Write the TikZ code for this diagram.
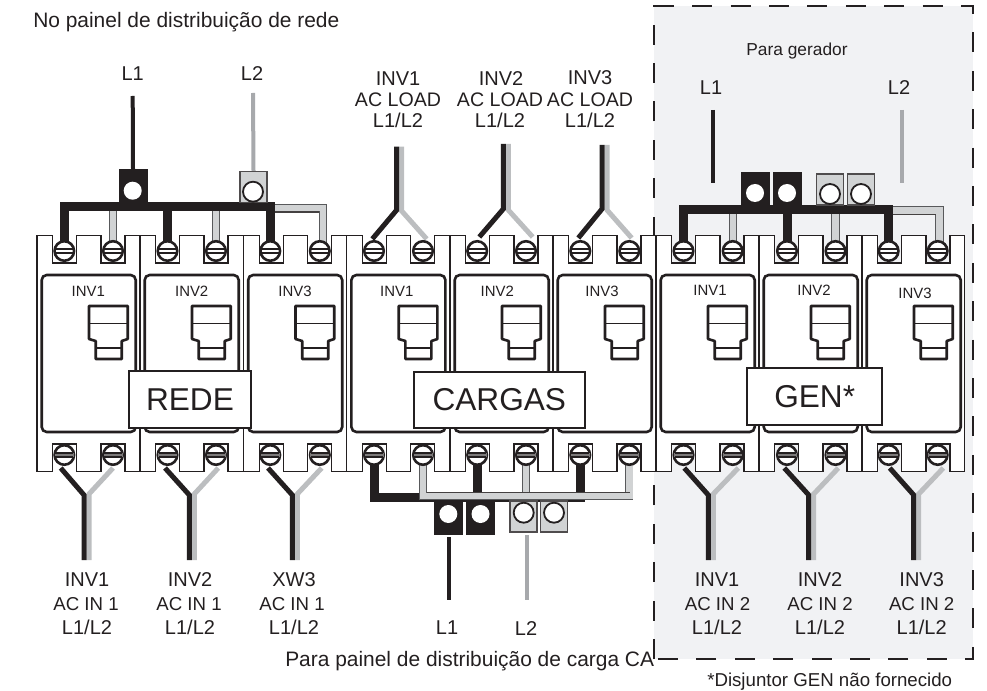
\documentclass[tikz,border=0pt]{standalone}
\usepackage{fontspec}
\setmainfont{Liberation Sans}
\def\px{0.75pt}
\definecolor{ink}{HTML}{231F20}
\definecolor{barlight}{HTML}{D1D3D4}
\definecolor{barline}{HTML}{58595B}
\definecolor{wiregray}{HTML}{BCBEC0}
\definecolor{feedgray}{HTML}{A7A9AC}
\definecolor{panelgray}{HTML}{F1F2F4}
\newcommand{\fs}[1]{\fontsize{#1}{#1}\selectfont}
\tikzset{
  breakerbody/.style={draw=ink,fill=white,line width=1.3*\px,line join=miter},
  innerframe/.style={draw=ink,line width=2.6*\px,rounded corners=5*\px},
  toggle/.style={draw=ink,line width=2.6*\px,line join=round,fill=white},
  togglebar/.style={draw=ink,line width=1.3*\px},
  screwhead/.style={circle,draw=ink,fill=white,line width=2.6*\px,minimum size=19.5*\px,inner sep=0pt},
  screwslot/.style={draw=ink,line width=1.2*\px},
  slotband/.style={draw=none,fill=ink!60},
  barblack/.style={draw=ink,line width=9*\px,line join=miter,line cap=butt},
  bargray/.style={draw=barline,double=barlight,line width=0.9*\px,double distance=6.4*\px,line join=miter,line cap=butt},
  barinner/.style={draw=ink!85,line width=1.2*\px},
  lugblack/.style={rectangle,draw=ink,fill=ink,line width=0.8*\px,minimum width=28*\px,minimum height=33*\px,inner sep=0pt},
  luggray/.style={rectangle,draw=ink!80,fill=barlight,line width=1.2*\px,minimum width=27*\px,minimum height=31*\px,inner sep=0pt},
  holeblack/.style={circle,fill=white,draw=none,minimum size=18*\px,inner sep=0pt},
  holegray/.style={circle,fill=white,draw=ink,line width=1.8*\px,minimum size=20*\px,inner sep=0pt},
  wireblack/.style={draw=ink,line width=5*\px,line join=miter,line cap=butt},
  wiregrayst/.style={draw=wiregray,line width=5*\px,line join=miter,line cap=butt},
  feedblack/.style={draw=ink,line width=4*\px},
  feedgrayst/.style={draw=feedgray,line width=4*\px},
  labelbox/.style={rectangle,draw=ink,fill=white,line width=1.8*\px,inner sep=0pt,text=ink,font=\fs{23.7}},
  invtag/.style={anchor=base,inner sep=0pt,text=ink,font=\fs{11.2}},
  big/.style={anchor=base,inner sep=0pt,text=ink,font=\fs{15}},
  mid/.style={anchor=base,inner sep=0pt,text=ink,font=\fs{14}},
  acload/.style={anchor=base,inner sep=0pt,text=ink,font=\fs{14.7}},
  gentitle/.style={anchor=base,inner sep=0pt,text=ink,font=\fs{13}},
  note/.style={anchor=base west,inner sep=0pt,text=ink,font=\fs{14}},
  wide/.style={anchor=base west,inner sep=0pt,text=ink,font=\fs{15.7}},
}
\begin{document}
\begin{tikzpicture}[x=0.75pt,y=-0.75pt]
\useasboundingbox (0,0) rectangle (987,691);
% generator panel
\fill[panelgray] (654,6) rectangle (973,659);
\draw[ink,line width=2.7*\px,dash pattern=on 20*\px off 18.4*\px] (654,659) -- (654,6) -- (973,6) -- (973,659) -- cycle;
% breakers
\foreach \n/\xo/\xe/\tagx/\tagy/\tagt in {
 1/37/140/88.3/296.7/INV1, 2/140/243.5/191.7/296.7/INV2, 3/243.5/346.7/295/296.7/INV3,
 4/346.7/450/396.7/296.7/INV1, 5/450/553/497.3/296.7/INV2, 6/553/656/602/296.7/INV3,
 7/656/759/710/296/INV1, 8/759/862/814/296/INV2, 9/862/964.5/915/298/INV3}{
  \draw[breakerbody] (\xo,235.5) -- (\xo+15.7,235.5) -- (\xo+15.7,263) -- (\xo+39.7,263) -- (\xo+39.7,235.5)
     -- (\xo+64,235.5) -- (\xo+64,263) -- (\xo+88,263) -- (\xo+88,235.5) -- (\xe,235.5)
     -- (\xe,471.7) -- (\xo+88,471.7) -- (\xo+88,444) -- (\xo+64,444) -- (\xo+64,471.7)
     -- (\xo+39.7,471.7) -- (\xo+39.7,444) -- (\xo+15.7,444) -- (\xo+15.7,471.7) -- (\xo,471.7) -- cycle;
  \draw[innerframe] (\xo+4.7,275) rectangle (\xo+98.7,432);
  \draw[toggle] (\xo+52,306) -- (\xo+90.7,306) -- (\xo+90.7,339) -- (\xo+84.7,341) -- (\xo+84.7,359)
     -- (\xo+58.7,359) -- (\xo+58.7,341) -- (\xo+52,339) -- cycle;
  \draw[togglebar] (\xo+52,323.3) -- (\xo+90.7,323.3);
  \draw[togglebar] (\xo+58.7,348) -- (\xo+84.7,348);
  \node[invtag] (tag\n) at (\tagx,\tagy) {\tagt};
}
% screw positions
\foreach \n/\x in {1/64.3,2/113,3/167.5,4/216,5/270.3,6/319.8,7/374,8/423,9/477.2,10/526,11/580.3,12/629.3,13/683.5,14/732.7,15/787,16/835.5,17/888.7,18/937.7}{
  \coordinate (tp\n) at (\x,251);
  \coordinate (bt\n) at (\x,455);
}
% bus of REDE
\coordinate (busa) at (0,207);
\coordinate (busagray) at (0,208);
\foreach \n in {2,4}{\draw[bargray] (tp\n |- busa) -- (tp\n);}
\draw[bargray] (tp5 |- busagray) -- (322.8,208) -- (322.8,251);
\draw[barinner] (274,212) -- (319,212);
\draw[barblack] (tp1) -- (tp1 |- busa) -- (tp5 |- busa) -- (tp5);
\draw[barblack] (tp3) -- (tp3 |- busa);
\node[lugblack] (luga1) at (133,186) {};
\node[holeblack] (holea1) at (132.7,190.7) {};
\node[luggray] (luga2) at (253.5,187) {};
\node[holegray] (holea2) at (253,191.7) {};
\coordinate (feeda1) at (132.7,96);
\coordinate (feeda2) at (253,93);
\draw[feedblack] (feeda1) -- (luga1.north);
\draw[feedgrayst] (feeda2) -- (luga2.north);
% bus of GEN
\coordinate (busc) at (0,209.5);
\coordinate (buscgray) at (0,210.5);
\foreach \n in {14,16}{\draw[bargray] (tp\n |- busc) -- (tp\n);}
\draw[bargray] (tp17 |- buscgray) -- (939.5,210.5) -- (939.5,251);
\draw[barinner] (890.7,214.3) -- (935.5,214.3);
\draw[barblack] (tp13) -- (tp13 |- busc) -- (tp17 |- busc) -- (tp17);
\draw[barblack] (tp15) -- (tp15 |- busc);
\node[lugblack] (lugc1) at (755,188.5) {};
\node[lugblack] (lugc2) at (787,188.5) {};
\node[holeblack] (holec1) at (755,193) {};
\node[holeblack] (holec2) at (787,193) {};
\node[luggray] (lugc3) at (830,189.5) {};
\node[luggray] (lugc4) at (861,189.5) {};
\node[holegray] (holec3) at (830,194) {};
\node[holegray] (holec4) at (861,194) {};
\coordinate (feedc1a) at (713.3,110);
\coordinate (feedc1b) at (713.3,183);
\coordinate (feedc2a) at (901.7,110);
\coordinate (feedc2b) at (901.7,183);
\draw[feedblack] (feedc1a) -- (feedc1b);
\draw[feedgrayst] (feedc2a) -- (feedc2b);
% bus of CARGAS
\coordinate (busb) at (0,497);
\coordinate (busbgray) at (0,496);
\draw[barblack] (bt7) -- (bt7 |- busb) -- (bt11 |- busb) -- (bt11);
\draw[barblack] (bt9) -- (bt9 |- busb);
\node[lugblack] (lugb1) at (448.3,517.5) {};
\node[lugblack] (lugb2) at (480.5,517.5) {};
\node[holeblack] (holeb1) at (448.3,514) {};
\node[holeblack] (holeb2) at (480.5,514) {};
\node[luggray] (lugb3) at (523.4,516.5) {};
\node[luggray] (lugb4) at (554,516.5) {};
\node[holegray] (holeb3) at (523.7,512.7) {};
\node[holegray] (holeb4) at (554,512.7) {};
\draw[bargray] (bt10) -- (bt10 |- busbgray);
\draw[bargray] (bt8) -- (bt8 |- busbgray) -- (bt12 |- busbgray) -- (bt12);
\draw[barinner] (427,492.5) -- (630,492.5);
\coordinate (feedb1) at (449,600);
\coordinate (feedb2) at (526.7,600);
\coordinate (feedb1s) at (449,537);
\coordinate (feedb2s) at (526.7,535);
\draw[feedblack] (feedb1s) -- (feedb1);
\draw[feedgrayst] (feedb2s) -- (feedb2);
% Y cables at the top of CARGAS
\foreach \k/\bx/\lx/\rx/\ty/\jy/\ey in {1/396.7/372.3/426.7/146.7/210/239,2/503.3/479.3/532.7/144/209/237,3/602/578.3/631.7/145/209/238}{
  \coordinate (ytop\k) at (\bx,\ty);
  \coordinate (yj\k) at (\bx,\jy);
  \coordinate (yl\k) at (\lx,\ey);
  \coordinate (ytopg\k) at (\bx+5,\ty);
  \coordinate (yjg\k) at (\bx+5,\jy+1);
  \coordinate (yr\k) at (\rx,\ey);
  \draw[wiregrayst] (ytopg\k) -- (yjg\k) -- (yr\k);
  \draw[wireblack] (ytop\k) -- (yj\k) -- (yl\k);
}
% Y cables at the bottom
\foreach \k/\bx/\lx/\rx in {1/84/60.7/113,2/189.3/165/218.3,3/292.3/268/321.7,4/708.3/684.3/738.3,5/808.7/784.3/838.3,6/913.7/889.7/943.3}{
  \coordinate (zend\k) at (\bx,560);
  \coordinate (zj\k) at (\bx,495);
  \coordinate (zl\k) at (\lx,468);
  \coordinate (zendg\k) at (\bx+5,560);
  \coordinate (zjg\k) at (\bx+5,494);
  \coordinate (zr\k) at (\rx,468);
  \draw[wiregrayst] (zendg\k) -- (zjg\k) -- (zr\k);
  \draw[wireblack] (zend\k) -- (zj\k) -- (zl\k);
}
% screws
\foreach \n in {1,...,18}{
  \node[screwhead] (st\n) at (tp\n) {};
  \draw[screwslot] ([xshift=-9*\px,yshift=2*\px]st\n.center) -- ([xshift=9*\px,yshift=2*\px]st\n.center);
  \draw[screwslot] ([xshift=-9*\px,yshift=-2*\px]st\n.center) -- ([xshift=9*\px,yshift=-2*\px]st\n.center);
  \node[screwhead] (sb\n) at (bt\n) {};
  \fill[slotband] ([xshift=-9.5*\px,yshift=2*\px]sb\n.center) rectangle ([xshift=9.5*\px,yshift=-2*\px]sb\n.center);
  \draw[screwslot] ([xshift=-9*\px,yshift=2*\px]sb\n.center) -- ([xshift=9*\px,yshift=2*\px]sb\n.center);
  \draw[screwslot] ([xshift=-9*\px,yshift=-2*\px]sb\n.center) -- ([xshift=9*\px,yshift=-2*\px]sb\n.center);
}
% label boxes
\node[labelbox,minimum width=122*\px,minimum height=57*\px] (rede) at (190,399.5) {REDE};
\node[labelbox,minimum width=171*\px,minimum height=56.5*\px] (cargas) at (499.3,400) {CARGAS};
\node[labelbox,minimum width=134.7*\px,minimum height=57*\px] (gen) at (814.7,396.5) {GEN*};
% texts
\node[wide] (t1) at (33,28) {No painel de distribuição de rede};
\node[big] (t2) at (132.7,81) {L1};
\node[big] (t3) at (252,81) {L2};
\node[gentitle] (t4) at (797,55.5) {Para gerador};
\node[big] (t5) at (711,95) {L1};
\node[big] (t6) at (899,95) {L2};
\node[big] (t7) at (398,86) {INV1};
\node[acload] (t8) at (398,107) {AC LOAD};
\node[big] (t9) at (398,128) {L1/L2};
\node[big] (t10) at (501,86) {INV2};
\node[acload] (t11) at (500,107) {AC LOAD};
\node[big] (t12) at (500,128) {L1/L2};
\node[big] (t13) at (590,85) {INV3};
\node[acload] (t14) at (590,107) {AC LOAD};
\node[big] (t15) at (590,128) {L1/L2};
\foreach \k/\xa/\xb/\xc/\ta/\tb in {1/87/86/87/INV1/AC IN 1,2/190/189/190/INV2/AC IN 1,3/294/292/294/XW3/AC IN 1,4/717/717.5/717/INV1/AC IN 2,5/820/820/820/INV2/AC IN 2,6/921.7/921.7/921.7/INV3/AC IN 2}{
  \node[big] (la\k) at (\xa,586.7) {\ta};
  \node[mid] (lb\k) at (\xb,610.2) {\tb};
  \node[big] (lc\k) at (\xc,634.7) {L1/L2};
}
\node[big] (t16) at (447,634) {L1};
\node[big] (t17) at (526,635) {L2};
\node[wide] (t18) at (285,666) {Para painel de distribuição de carga CA};
\node[note] (t19) at (707,686.7) {*Disjuntor GEN não fornecido};
\end{tikzpicture}
\end{document}
